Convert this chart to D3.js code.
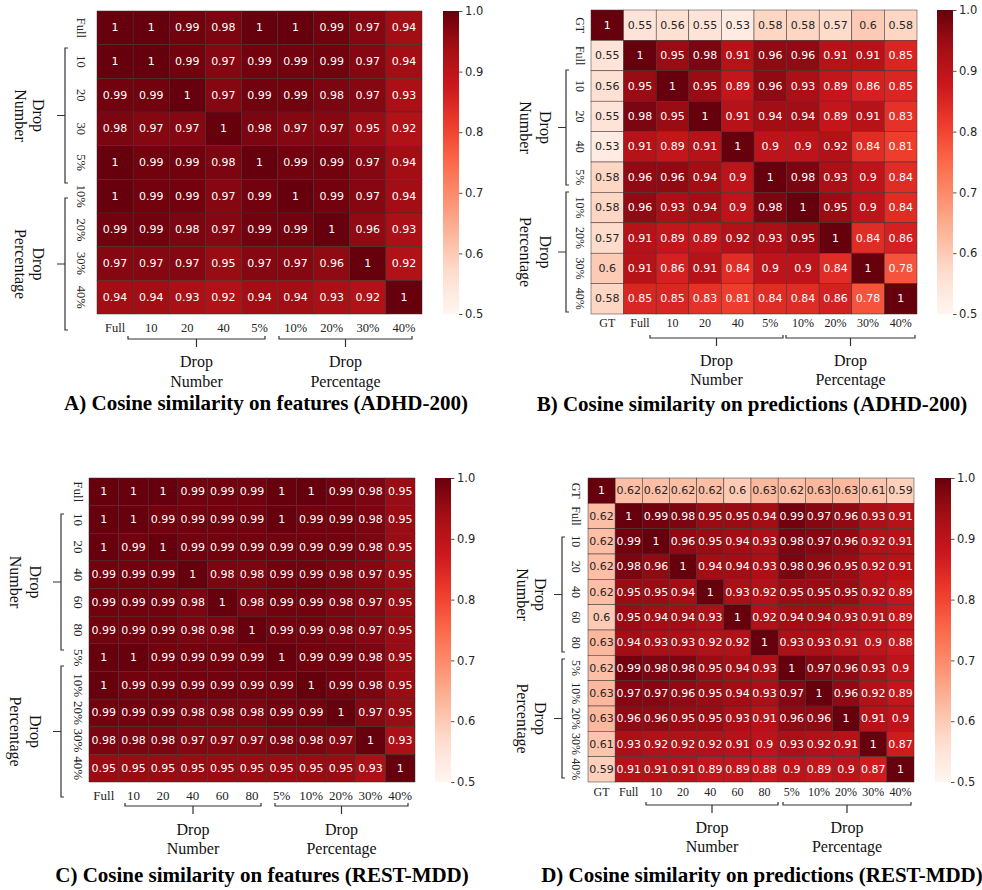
<!DOCTYPE html>
<html><head><meta charset="utf-8">
<script src="https://cdn.jsdelivr.net/npm/d3@7"></script>
<style>body{margin:0;background:#fff}</style>
</head><body><svg id="chart" width="982" height="890" xmlns="http://www.w3.org/2000/svg"></svg>
<script>
// ---------- DATA ----------
const rowsA = ["Full","10","20","30","5%","10%","20%","30%","40%"];
const colsA = ["Full","10","20","40","5%","10%","20%","30%","40%"];
const valuesA = [
  [1,1,0.99,0.98,1,1,0.99,0.97,0.94],
  [1,1,0.99,0.97,0.99,0.99,0.99,0.97,0.94],
  [0.99,0.99,1,0.97,0.99,0.99,0.98,0.97,0.93],
  [0.98,0.97,0.97,1,0.98,0.97,0.97,0.95,0.92],
  [1,0.99,0.99,0.98,1,0.99,0.99,0.97,0.94],
  [1,0.99,0.99,0.97,0.99,1,0.99,0.97,0.94],
  [0.99,0.99,0.98,0.97,0.99,0.99,1,0.96,0.93],
  [0.97,0.97,0.97,0.95,0.97,0.97,0.96,1,0.92],
  [0.94,0.94,0.93,0.92,0.94,0.94,0.93,0.92,1]
];
const labelsB = ["GT","Full","10","20","40","5%","10%","20%","30%","40%"];
const valuesB = [
  [1,0.55,0.56,0.55,0.53,0.58,0.58,0.57,0.6,0.58],
  [0.55,1,0.95,0.98,0.91,0.96,0.96,0.91,0.91,0.85],
  [0.56,0.95,1,0.95,0.89,0.96,0.93,0.89,0.86,0.85],
  [0.55,0.98,0.95,1,0.91,0.94,0.94,0.89,0.91,0.83],
  [0.53,0.91,0.89,0.91,1,0.9,0.9,0.92,0.84,0.81],
  [0.58,0.96,0.96,0.94,0.9,1,0.98,0.93,0.9,0.84],
  [0.58,0.96,0.93,0.94,0.9,0.98,1,0.95,0.9,0.84],
  [0.57,0.91,0.89,0.89,0.92,0.93,0.95,1,0.84,0.86],
  [0.6,0.91,0.86,0.91,0.84,0.9,0.9,0.84,1,0.78],
  [0.58,0.85,0.85,0.83,0.81,0.84,0.84,0.86,0.78,1]
];
const labelsC = ["Full","10","20","40","60","80","5%","10%","20%","30%","40%"];
const valuesC = [
  [1,1,1,0.99,0.99,0.99,1,1,0.99,0.98,0.95],
  [1,1,0.99,0.99,0.99,0.99,1,0.99,0.99,0.98,0.95],
  [1,0.99,1,0.99,0.99,0.99,0.99,0.99,0.99,0.98,0.95],
  [0.99,0.99,0.99,1,0.98,0.98,0.99,0.99,0.98,0.97,0.95],
  [0.99,0.99,0.99,0.98,1,0.98,0.99,0.99,0.98,0.97,0.95],
  [0.99,0.99,0.99,0.98,0.98,1,0.99,0.99,0.98,0.97,0.95],
  [1,1,0.99,0.99,0.99,0.99,1,0.99,0.99,0.98,0.95],
  [1,0.99,0.99,0.99,0.99,0.99,0.99,1,0.99,0.98,0.95],
  [0.99,0.99,0.99,0.98,0.98,0.98,0.99,0.99,1,0.97,0.95],
  [0.98,0.98,0.98,0.97,0.97,0.97,0.98,0.98,0.97,1,0.93],
  [0.95,0.95,0.95,0.95,0.95,0.95,0.95,0.95,0.95,0.93,1]
];
const labelsD = ["GT","Full","10","20","40","60","80","5%","10%","20%","30%","40%"];
const valuesD = [
  [1,0.62,0.62,0.62,0.62,0.6,0.63,0.62,0.63,0.63,0.61,0.59],
  [0.62,1,0.99,0.98,0.95,0.95,0.94,0.99,0.97,0.96,0.93,0.91],
  [0.62,0.99,1,0.96,0.95,0.94,0.93,0.98,0.97,0.96,0.92,0.91],
  [0.62,0.98,0.96,1,0.94,0.94,0.93,0.98,0.96,0.95,0.92,0.91],
  [0.62,0.95,0.95,0.94,1,0.93,0.92,0.95,0.95,0.95,0.92,0.89],
  [0.6,0.95,0.94,0.94,0.93,1,0.92,0.94,0.94,0.93,0.91,0.89],
  [0.63,0.94,0.93,0.93,0.92,0.92,1,0.93,0.93,0.91,0.9,0.88],
  [0.62,0.99,0.98,0.98,0.95,0.94,0.93,1,0.97,0.96,0.93,0.9],
  [0.63,0.97,0.97,0.96,0.95,0.94,0.93,0.97,1,0.96,0.92,0.89],
  [0.63,0.96,0.96,0.95,0.95,0.93,0.91,0.96,0.96,1,0.91,0.9],
  [0.61,0.93,0.92,0.92,0.92,0.91,0.9,0.93,0.92,0.91,1,0.87],
  [0.59,0.91,0.91,0.91,0.89,0.89,0.88,0.9,0.89,0.9,0.87,1]
];
const colorbarTicks = [0.5,0.6,0.7,0.8,0.9,1.0];
const groupNames = [["Drop","Number"],["Drop","Percentage"]];
const titles = [
  "A) Cosine similarity on features (ADHD-200)",
  "B) Cosine similarity on predictions (ADHD-200)",
  "C) Cosine similarity on features (REST-MDD)",
  "D) Cosine similarity on predictions (REST-MDD)"
];

// ---------- LAYOUT ----------
const panels = [
  {rows: rowsA, cols: colsA, values: valuesA, title: titles[0],
   x0: 97, x1: 422, y0: 11, y1: 314, cbX: 443, tickFont: 12.5,
   rowLabelX: 81, colLabelY: 328,
   leftBr: {x: 65, spans: [[48,183],[198,330]], textX: [38,20]},
   botBr: {y: 339, spans: [[128,265],[279,412]], textY: [361,381]},
   titleX: 266, titleY: 410},
  {rows: labelsB, cols: labelsB, values: valuesB, title: titles[1],
   x0: 591, x1: 917, y0: 10, y1: 314, cbX: 937, tickFont: 12,
   rowLabelX: 580, colLabelY: 323,
   leftBr: {x: 566, spans: [[70,185],[192,312]], textX: [545,525]},
   botBr: {y: 338, spans: [[650,783],[786,915]], textY: [360,379]},
   titleX: 752, titleY: 411},
  {rows: labelsC, cols: labelsC, values: valuesC, title: titles[2],
   x0: 89, x1: 415, y0: 478, y1: 782, cbX: 435, tickFont: 13,
   rowLabelX: 78, colLabelY: 795,
   leftBr: {x: 61, spans: [[514,650],[666,797]], textX: [35,15]},
   botBr: {y: 806, spans: [[125,261],[275,408]], textY: [829,848]},
   titleX: 262, titleY: 882},
  {rows: labelsD, cols: labelsD, values: valuesD, title: titles[3],
   x0: 588, x1: 914, y0: 478, y1: 782, cbX: 935, tickFont: 12,
   rowLabelX: 576, colLabelY: 792,
   leftBr: {x: 562, spans: [[537,652],[659,778]], textX: [540,522]},
   botBr: {y: 805, spans: [[646,778],[783,911]], textY: [827,846]},
   titleX: 762, titleY: 882}
];

const serif = "'Liberation Serif','Times New Roman',serif";
const sans = "'DejaVu Sans',sans-serif";
const svg = d3.select("#chart");

const color = d3.scaleLinear()
  .domain(d3.range(9).map(i => 0.5 + i * 0.5 / 8))
  .range(d3.schemeReds[9]).clamp(true);

function luminance(c) {
  const r = d3.rgb(c);
  const f = v => { v /= 255; return v <= 0.03928 ? v / 12.92 : Math.pow((v + 0.055) / 1.055, 2.4); };
  return 0.2126 * f(r.r) + 0.7152 * f(r.g) + 0.0722 * f(r.b);
}

// gradient for colorbars
const grad = svg.append("defs").append("linearGradient")
  .attr("id", "redsGrad").attr("x1", 0).attr("y1", 1).attr("x2", 0).attr("y2", 0);
d3.range(0, 1.0001, 0.05).forEach(t => {
  grad.append("stop").attr("offset", t).attr("stop-color", color(0.5 + t * 0.5));
});

const fmt = d3.format(".2~g");

panels.forEach(p => {
  const g = svg.append("g");
  const n = p.rows.length, m = p.cols.length;
  const x = d3.scaleBand().domain(d3.range(m)).range([p.x0, p.x1]);
  const y = d3.scaleBand().domain(d3.range(n)).range([p.y0, p.y1]);
  const cells = [];
  p.values.forEach((row, i) => row.forEach((v, j) => cells.push({i, j, v})));

  g.selectAll("rect.cell").data(cells).join("rect")
    .attr("class", "cell")
    .attr("x", d => x(d.j)).attr("y", d => y(d.i))
    .attr("width", x.bandwidth()).attr("height", y.bandwidth())
    .attr("fill", d => color(d.v))
    .attr("stroke", "#3a3030").attr("stroke-width", 0.5);

  g.selectAll("text.annot").data(cells).join("text")
    .attr("class", "annot")
    .attr("x", d => x(d.j) + x.bandwidth() / 2)
    .attr("y", d => y(d.i) + y.bandwidth() / 2)
    .attr("text-anchor", "middle").attr("dominant-baseline", "central")
    .attr("font-family", sans).attr("font-size", 11)
    .attr("fill", d => luminance(color(d.v)) > 0.408 ? "#262626" : "#ffffff")
    .text(d => fmt(d.v));

  // bottom axis
  const bx = g.append("g").attr("transform", `translate(0,${p.y1})`)
    .call(d3.axisBottom(x).tickSize(0).tickFormat(j => p.cols[j]));
  bx.select(".domain").remove();
  bx.selectAll("text").attr("y", p.colLabelY - p.y1).attr("dy", 0)
    .attr("dominant-baseline", "central")
    .attr("font-family", serif).attr("font-size", p.tickFont).attr("fill", "#222");

  // left axis, rotated labels
  const ly = g.append("g").attr("transform", `translate(${p.x0},0)`)
    .call(d3.axisLeft(y).tickSize(0).tickFormat(i => p.rows[i]));
  ly.select(".domain").remove();
  ly.selectAll("text").attr("x", 0).attr("dy", 0)
    .attr("text-anchor", "middle").attr("dominant-baseline", "central")
    .attr("transform", `translate(${p.rowLabelX - p.x0},0) rotate(90)`)
    .attr("font-family", serif).attr("font-size", p.tickFont).attr("fill", "#222");

  // colorbar
  const cbW = 16;
  g.append("rect").attr("x", p.cbX).attr("y", p.y0)
    .attr("width", cbW).attr("height", p.y1 - p.y0).attr("fill", "url(#redsGrad)");
  const cy = d3.scaleLinear().domain([0.5, 1.0]).range([p.y1, p.y0]);
  const cax = g.append("g").attr("transform", `translate(${p.cbX + cbW},0)`)
    .call(d3.axisRight(cy).tickValues(colorbarTicks).tickFormat(d3.format(".1f")).tickSize(3.5).tickPadding(2.5));
  cax.select(".domain").remove();
  cax.selectAll("line").attr("stroke", "#262626").attr("stroke-width", 0.8);
  cax.selectAll("text").attr("font-family", sans).attr("font-size", 11.5).attr("fill", "#262626");

  // left brackets
  const lb = p.leftBr;
  lb.spans.forEach((s, k) => {
    const mid = (s[0] + s[1]) / 2;
    g.append("path")
      .attr("d", `M${lb.x + 3},${s[0]}H${lb.x}V${s[1]}H${lb.x + 3}M${lb.x},${mid}H${lb.x - 8}`)
      .attr("fill", "none").attr("stroke", "#333").attr("stroke-width", 1.2);
    groupNames[k].forEach((t, li) => {
      g.append("text")
        .attr("transform", `translate(${lb.textX[li]},${mid}) rotate(90)`)
        .attr("text-anchor", "middle").attr("dominant-baseline", "central")
        .attr("font-family", serif).attr("font-size", 16).attr("fill", "#111")
        .text(t);
    });
  });

  // bottom brackets
  const bb = p.botBr;
  bb.spans.forEach((s, k) => {
    const mid = (s[0] + s[1]) / 2;
    g.append("path")
      .attr("d", `M${s[0]},${bb.y - 3}V${bb.y}H${s[1]}V${bb.y - 3}M${mid},${bb.y}V${bb.y + 8}`)
      .attr("fill", "none").attr("stroke", "#333").attr("stroke-width", 1.2);
    groupNames[k].forEach((t, li) => {
      g.append("text")
        .attr("x", mid).attr("y", bb.textY[li])
        .attr("text-anchor", "middle").attr("dominant-baseline", "central")
        .attr("font-family", serif).attr("font-size", 16).attr("fill", "#111")
        .text(t);
    });
  });

  // title
  g.append("text").attr("x", p.titleX).attr("y", p.titleY)
    .attr("text-anchor", "middle")
    .attr("font-family", serif).attr("font-weight", "bold").attr("font-size", 21).attr("fill", "#000")
    .text(p.title);
});
</script>
</body></html>
